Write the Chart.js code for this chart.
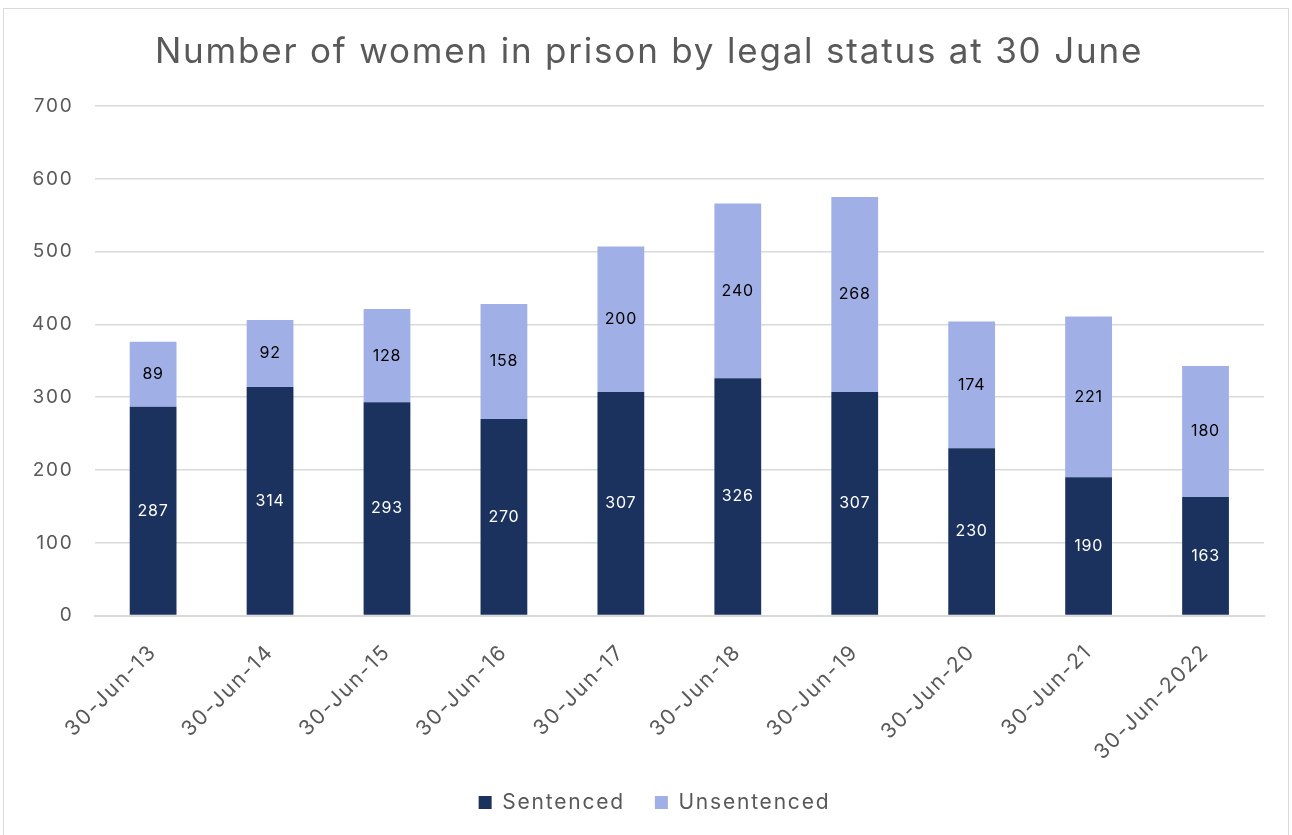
<!DOCTYPE html>
<html>
<head>
<meta charset="utf-8">
<script src="https://cdn.jsdelivr.net/npm/chart.js@4"></script>
<style>
  body { margin: 0; background: #fff; }
  #frame { position: absolute; left: 3px; top: 8px; width: 1286px; height: 830px; border: 1px solid #d9d9d9; box-sizing: border-box; }
  canvas { display: block; }
</style>
</head>
<body>
<div id="frame"><canvas id="grafica" width="1284" height="828"></canvas></div>
<script>
// datos
const fechas = ['30-Jun-13', '30-Jun-14', '30-Jun-15', '30-Jun-16', '30-Jun-17', '30-Jun-18', '30-Jun-19', '30-Jun-20', '30-Jun-21', '30-Jun-2022'];
const sentenciadas = [287, 314, 293, 270, 307, 326, 307, 230, 190, 163];
const sinSentencia = [89, 92, 128, 158, 200, 240, 268, 174, 221, 180];
const ticksY = [0, 100, 200, 300, 400, 500, 600, 700];

const fuente = "Inter, 'Open Sans', sans-serif";
const gris = '#595959';
const espaciado = '1.8px';

// la fuente original es más ancha: se abre el espaciado de letras
const espacio = {
  id: 'espacio',
  beforeInit(chart) { chart.ctx.letterSpacing = espaciado; },
  beforeLayout(chart) { chart.ctx.letterSpacing = espaciado; },
  beforeDraw(chart) { chart.ctx.letterSpacing = espaciado; },
  // título y leyenda centrados en todo el marco, no en el área con padding
  afterLayout(chart) {
    chart.titleBlock.left += 23;
    chart.legend.left += 34;
  }
};

// etiquetas dentro de cada barra
const etiquetas = {
  id: 'etiquetas',
  afterDatasetsDraw(chart) {
    const ctx = chart.ctx;
    ctx.save();
    ctx.letterSpacing = '0.8px';
    ctx.font = '16px ' + fuente;
    ctx.textAlign = 'center';
    ctx.textBaseline = 'middle';
    chart.data.datasets.forEach((ds, i) => {
      const meta = chart.getDatasetMeta(i);
      meta.data.forEach((bar, j) => {
        const y = (bar.y + bar.base) / 2;
        ctx.fillStyle = i === 0 ? '#ffffff' : '#000000';
        ctx.fillText(ds.data[j], bar.x, y);
      });
    });
    ctx.restore();
  }
};

const ctx = document.getElementById('grafica').getContext('2d');
const myChart = new Chart(ctx, {
  type: 'bar',
  data: {
    labels: fechas,
    datasets: [
      { label: 'Sentenced', data: sentenciadas, backgroundColor: '#1c325e', barPercentage: 0.4, categoryPercentage: 1 },
      { label: 'Unsentenced', data: sinSentencia, backgroundColor: '#a0afe5', barPercentage: 0.4, categoryPercentage: 1 }
    ]
  },
  options: {
    responsive: false,
    animation: false,
    layout: { padding: { left: 7, right: 24, top: 10, bottom: 14 } },
    plugins: {
      title: {
        display: true,
        text: 'Number of women in prison by legal status at 30 June',
        color: gris,
        font: { family: fuente, size: 35, weight: 'normal' },
        padding: { top: 12, bottom: 33 }
      },
      legend: {
        position: 'bottom',
        labels: {
          color: gris,
          font: { family: fuente, size: 21 },
          boxWidth: 13,
          boxHeight: 13,
          padding: 30
        }
      },
      tooltip: { enabled: false }
    },
    scales: {
      x: {
        stacked: true,
        grid: { display: false },
        border: { color: '#d9d9d9', width: 2 },
        ticks: { color: gris, font: { family: fuente, size: 21 }, minRotation: 45, maxRotation: 45, padding: 16 },
        afterFit: axis => { axis.height -= 19; }
      },
      y: {
        stacked: true,
        min: 0,
        max: 700,
        afterBuildTicks: axis => { axis.ticks = ticksY.map(v => ({ value: v })); },
        grid: { color: '#d9d9d9', lineWidth: 1.5, drawTicks: false },
        border: { display: false },
        ticks: { color: gris, font: { family: fuente, size: 19 }, padding: 21 }
      }
    }
  },
  plugins: [espacio, etiquetas]
});
</script>
</body>
</html>
